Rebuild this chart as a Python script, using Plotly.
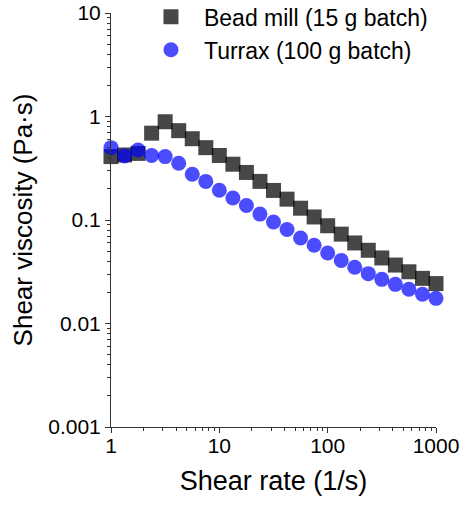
import numpy as np
import plotly.graph_objects as go

shear_rate = [1.0, 1.334, 1.778, 2.371, 3.162, 4.217, 5.623, 7.499, 10.0, 13.34, 17.78, 23.71,
              31.62, 42.17, 56.23, 74.99, 100.0, 133.4, 177.8, 237.1, 316.2, 421.7, 562.3, 749.9, 1000.0]
bead_mill = [0.41, 0.425, 0.44, 0.69, 0.89, 0.73, 0.61, 0.50, 0.42, 0.346, 0.288, 0.236,
             0.193, 0.159, 0.130, 0.107, 0.088, 0.073, 0.060, 0.051, 0.043, 0.0367, 0.0316, 0.0273, 0.0243]
turrax = [0.50, 0.416, 0.475, 0.42, 0.41, 0.353, 0.277, 0.236, 0.194, 0.163, 0.138, 0.114,
          0.0957, 0.081, 0.067, 0.057, 0.048, 0.0407, 0.035, 0.0303, 0.0267, 0.0239, 0.0214, 0.0192, 0.0175]

x_ticks = [1, 10, 100, 1000]
x_ticktext = ["1", "10", "100", "1000"]
y_ticks = [0.001, 0.01, 0.1, 1, 10]
y_ticktext = ["0.001", "0.01", "0.1", "1", "10"]

font = "Liberation Sans, Arial, sans-serif"

fig = go.Figure()
fig.add_trace(go.Scatter(
    x=shear_rate, y=bead_mill, mode="markers", name="Bead mill (15 g batch)",
    marker=dict(symbol="square", size=15, color="rgba(0,0,0,0.72)", line=dict(width=0)),
    cliponaxis=False))
fig.add_trace(go.Scatter(
    x=shear_rate, y=turrax, mode="markers", name="Turrax (100 g batch)",
    marker=dict(symbol="circle", size=15, color="rgba(0,0,255,0.7)", line=dict(width=0)),
    cliponaxis=False))

axis_common = dict(
    type="log", showgrid=False, zeroline=False, showline=True, linecolor="#333333", linewidth=1,
    ticks="outside", ticklen=5, tickcolor="#333333", tickwidth=1,
    tickfont=dict(family=font, size=21, color="black"),
    minor=dict(ticks="outside", ticklen=3, tickcolor="#333333", tickwidth=1, dtick="D1", showgrid=False),
    mirror=False, ticklabeloverflow="allow",
)

fig.update_layout(
    width=462, height=505,
    margin=dict(l=111, r=26, t=13, b=78, autoexpand=False),
    plot_bgcolor="white", paper_bgcolor="white",
    font=dict(family=font, color="black"),
    xaxis=dict(axis_common, range=[0, 3], tickvals=x_ticks, ticktext=x_ticktext, ticklabelstandoff=-5,
               title=dict(text="Shear rate (1/s)", font=dict(family=font, size=27), standoff=14)),
    yaxis=dict(axis_common, range=[-3, 1], tickvals=y_ticks, ticktext=y_ticktext,
               title=dict(text="Shear viscosity (Pa·s)", font=dict(family=font, size=26), standoff=8)),
    showlegend=True,
    legend=dict(x=0.083, y=1.0425, xanchor="left", yanchor="top", bgcolor="rgba(0,0,0,0)",
                font=dict(family=font, size=23, color="black"), itemwidth=56, tracegroupgap=0),
)

fig.write_html("out.html")
